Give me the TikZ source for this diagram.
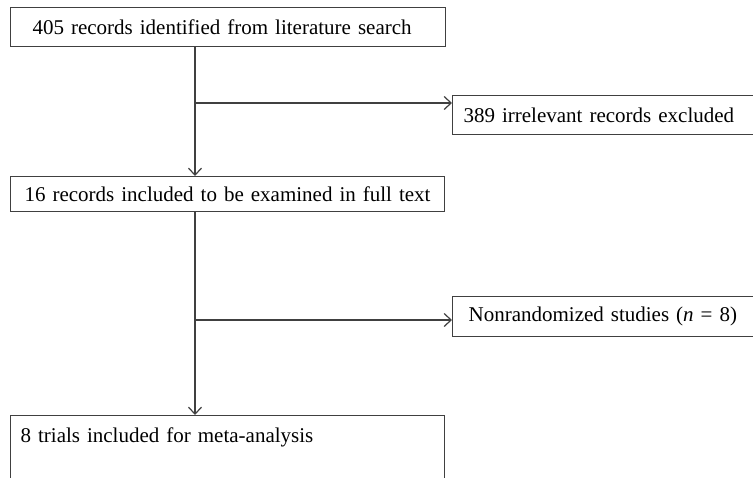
\documentclass[tikz,border=0pt]{standalone}
\usepackage{fontspec}
\setmainfont{Liberation Serif}
\usetikzlibrary{arrows.meta,positioning}
\tikzset{
  stage/.style = {draw=black!75, line width=1.2pt, anchor=north west, align=left,
                  minimum height=39pt, inner ysep=0pt,
                  font=\fontsize{21}{25}\selectfont},
  flow/.style  = {draw=black!75, line width=1.2pt, -{Straight Barb[length=7pt,width=13pt]}},
  trunk/.style = {draw=black!75, line width=1.2pt}
}

\begin{document}
\begin{tikzpicture}[x=1pt, y=-1pt]
    \useasboundingbox (0,0) rectangle (753,477);
    \clip (0,0) rectangle (753,477);
    % Main column
    \node[stage, inner xsep=22pt, text width=391pt] (search) at (10,7) {405 records identified from literature search};
    \node[stage, inner xsep=14pt, text width=406pt, minimum height=35pt] (full) at (10,176) {16 records included to be examined in full text};
    \node[stage, inner xsep=10pt, text width=414pt, text height=27pt, text depth=80pt] (meta) at (10,415) {8 trials included for meta-analysis};
    % Excluded
    \node[stage, inner xsep=11pt, text width=326pt] (irrel) at (452,95) {389 irrelevant records excluded};
    \node[stage, inner xsep=16pt, text width=316pt, minimum height=40pt] (nonrand) at (452,296) {Nonrandomized studies (\textit{n} = 8)};
    % Split points
    \coordinate (s1) at (195,103);
    \coordinate (s2) at (195,320);
    % Connectors
    \draw[flow] (search.south -| s1) -- (full.north -| s1);
    \draw[flow] (full.south -| s2) -- (meta.north -| s2);
    \draw[flow] (s1) -- (irrel.west |- s1);
    \draw[flow] (s2) -- (nonrand.west |- s2);
  \end{tikzpicture}
\end{document}
